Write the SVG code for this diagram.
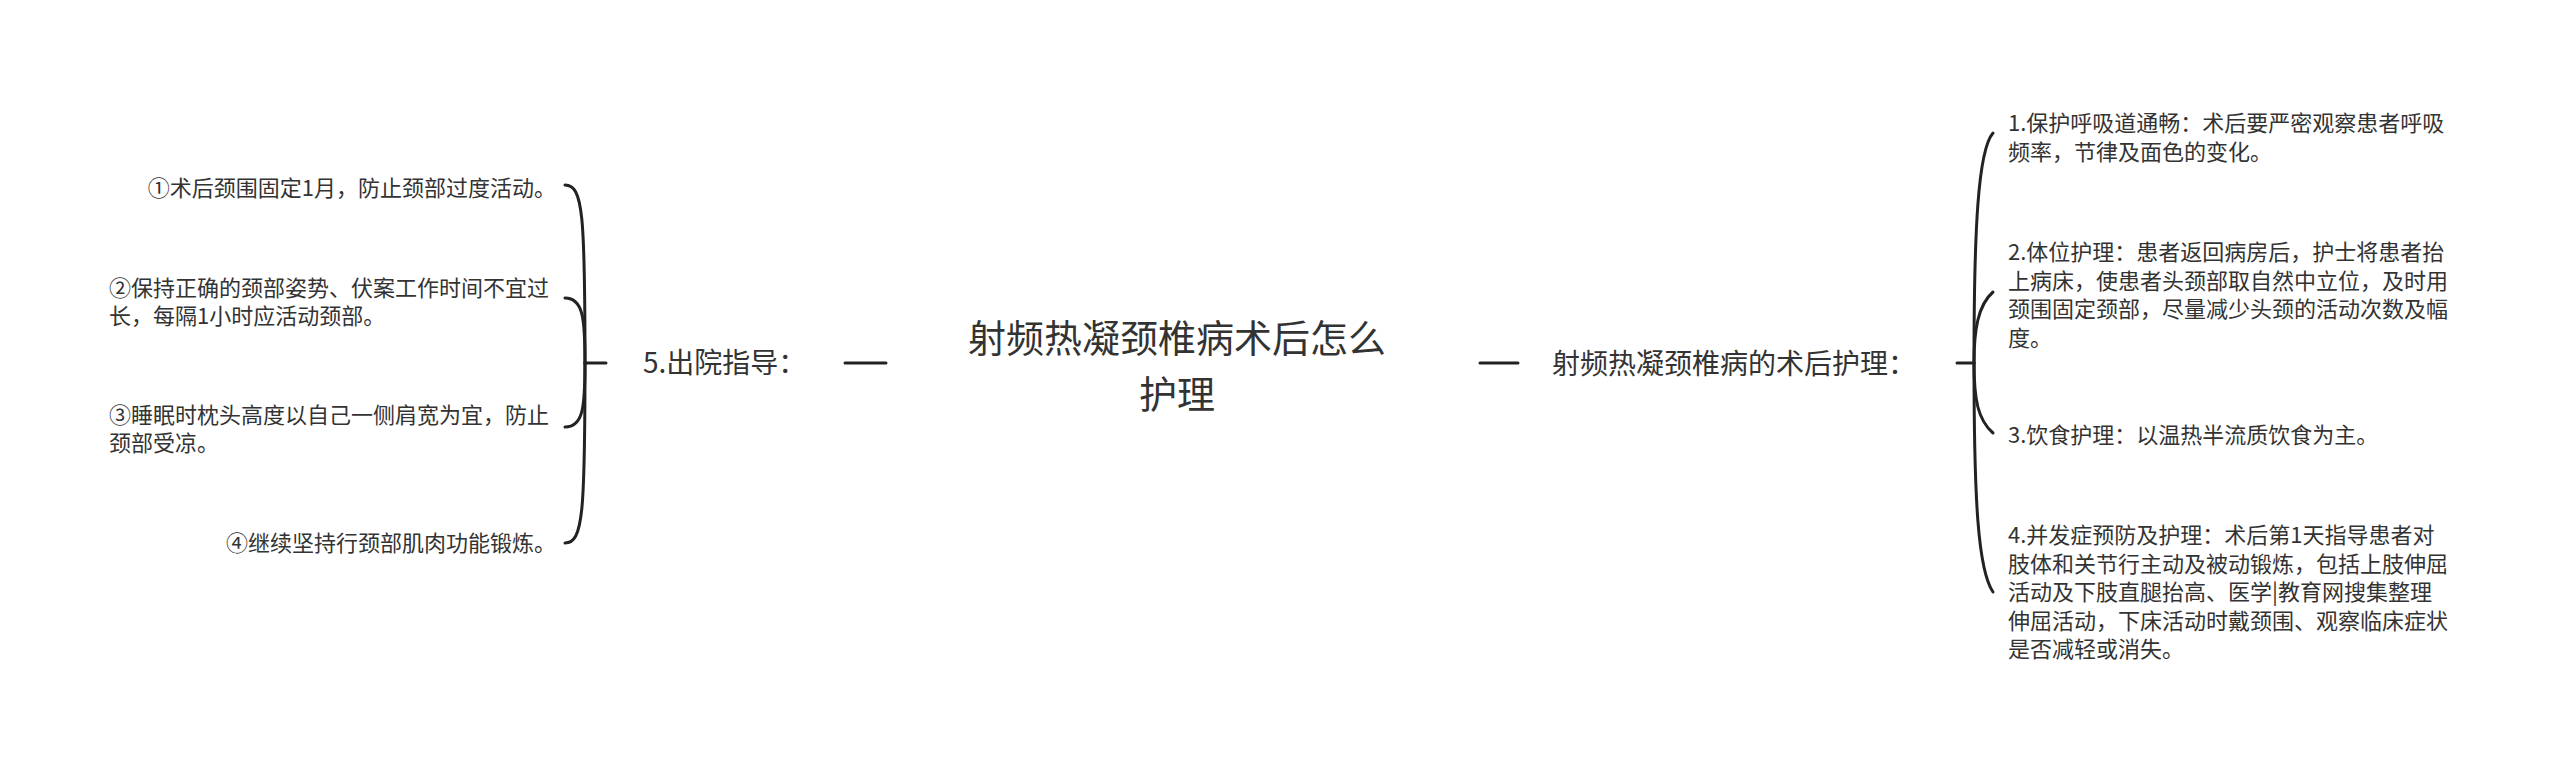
<svg xmlns="http://www.w3.org/2000/svg" width="2560" height="770" viewBox="0 0 2560 770">
<style>
text{font-family:"Microsoft YaHei","Noto Sans CJK SC","Noto Sans",sans-serif;fill:#333333}
.t{font-size:22px}
.m{font-size:28px}
.c{font-size:38px}
.ln{fill:none;stroke:#222222;stroke-width:3;stroke-linecap:round}
</style>
<rect width="2560" height="770" fill="#ffffff"/>
<g id="connectors">
<path class="ln" d="M845,363 L886,363"/>
<path class="ln" d="M1480,363 L1518,363"/>
<path class="ln" d="M585,363 L606,363"/>
<path class="ln" d="M585,363 C585,215 583,185 565,185"/>
<path class="ln" d="M585,363 C585,318 583,298 565,298"/>
<path class="ln" d="M585,363 C585,408 583,427 565,427"/>
<path class="ln" d="M585,363 C585,513 583,543 565,543"/>
<path class="ln" d="M1957,363 L1974,363"/>
<path class="ln" d="M1974,363 C1974,230 1978,150 1993,133"/>
<path class="ln" d="M1974,363 C1974,330 1978,305 1993,292"/>
<path class="ln" d="M1974,363 C1974,400 1978,420 1993,433"/>
<path class="ln" d="M1974,363 C1974,500 1978,570 1993,592"/>
</g>
<g id="root">
<text class="c" x="1177" y="352" text-anchor="middle">射频热凝颈椎病术后怎么</text>
<text class="c" x="1177" y="408" text-anchor="middle">护理</text>
</g>
<g id="left-main">
<text class="m" x="643" y="373">5.出院指导：</text>
</g>
<g id="left-1">
<text class="t" x="556" y="196" text-anchor="end">①术后颈围固定1月，防止颈部过度活动。</text>
</g>
<g id="left-2">
<text class="t" x="109" y="296">②保持正确的颈部姿势、伏案工作时间不宜过</text>
<text class="t" x="109" y="324">长，每隔1小时应活动颈部。</text>
</g>
<g id="left-3">
<text class="t" x="109" y="423">③睡眠时枕头高度以自己一侧肩宽为宜，防止</text>
<text class="t" x="109" y="451">颈部受凉。</text>
</g>
<g id="left-4">
<text class="t" x="556" y="551" text-anchor="end">④继续坚持行颈部肌肉功能锻炼。</text>
</g>
<g id="right-main">
<text class="m" x="1552" y="374">射频热凝颈椎病的术后护理：</text>
</g>
<g id="right-1">
<text class="t" x="2008" y="131">1.保护呼吸道通畅：术后要严密观察患者呼吸</text>
<text class="t" x="2008" y="159.5">频率，节律及面色的变化。</text>
</g>
<g id="right-2">
<text class="t" x="2008" y="260">2.体位护理：患者返回病房后，护士将患者抬</text>
<text class="t" x="2008" y="288.5">上病床，使患者头颈部取自然中立位，及时用</text>
<text class="t" x="2008" y="317">颈围固定颈部，尽量减少头颈的活动次数及幅</text>
<text class="t" x="2008" y="345.5">度。</text>
</g>
<g id="right-3">
<text class="t" x="2008" y="443">3.饮食护理：以温热半流质饮食为主。</text>
</g>
<g id="right-4">
<text class="t" x="2008" y="543">4.并发症预防及护理：术后第1天指导患者对</text>
<text class="t" x="2008" y="571.5">肢体和关节行主动及被动锻炼，包括上肢伸屈</text>
<text class="t" x="2008" y="600">活动及下肢直腿抬高、医学|教育网搜集整理</text>
<text class="t" x="2008" y="628.5">伸屈活动，下床活动时戴颈围、观察临床症状</text>
<text class="t" x="2008" y="657">是否减轻或消失。</text>
</g>
</svg>
